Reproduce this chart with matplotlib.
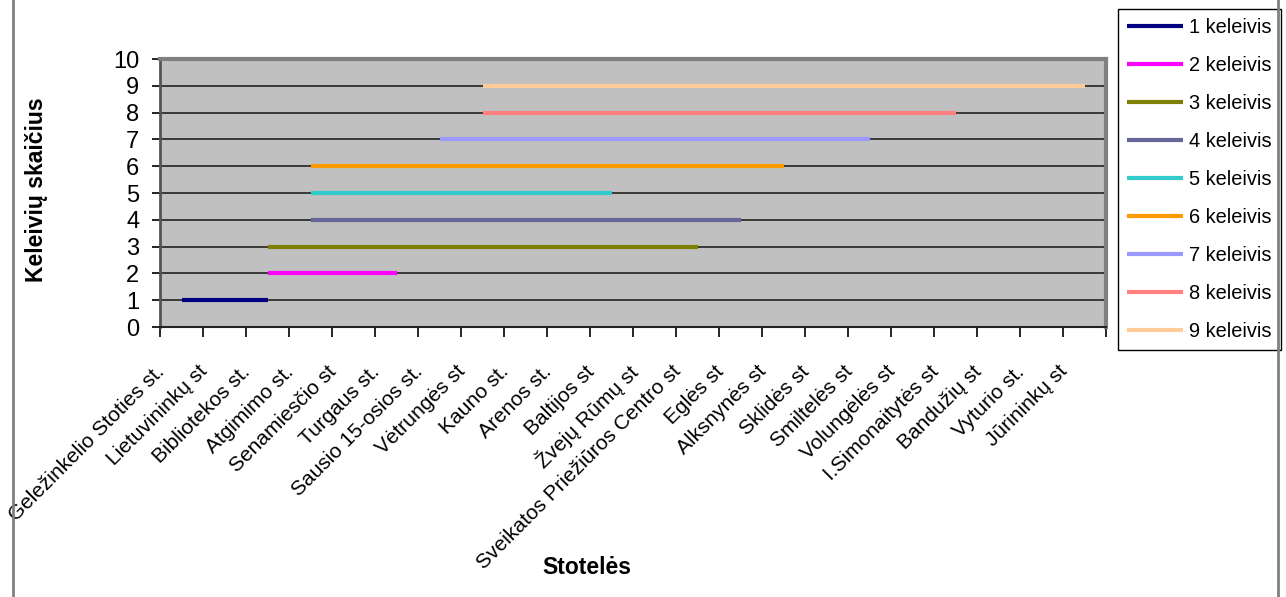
import matplotlib.pyplot as plt
from matplotlib.lines import Line2D
from matplotlib.transforms import ScaledTranslation

plt.rcParams['font.family'] = ['Liberation Sans', 'DejaVu Sans']

stops = ['Geležinkelio Stoties st.', 'Lietuvininkų st', 'Bibliotekos st.', 'Atgimimo st.',
         'Senamiesčio st', 'Turgaus st.', 'Sausio 15-osios st.', 'Vėtrungės st',
         'Kauno st.', 'Arenos st.', 'Baltijos st', 'Žvejų Rūmų st',
         'Sveikatos Priežiūros Centro st', 'Eglės st', 'Alksnynės st', 'Sklidės st',
         'Smiltelės st', 'Volungėlės st', 'I.Simonaitytės st', 'Bandužių st',
         'Vyturio st.', 'Jūrininkų st']

# passenger number, stop where boarding and stop where leaving (index into stops)
passengers = [1, 2, 3, 4, 5, 6, 7, 8, 9]
board = [0, 2, 2, 3, 3, 3, 6, 7, 7]
leave = [2, 5, 12, 13, 10, 14, 16, 18, 21]
labels = [str(p) + ' keleivis' for p in passengers]
colors = ['#000080', '#FF00FF', '#808000', '#666699', '#33CCCC',
          '#FF9900', '#9999FF', '#FF8080', '#FFCC99']

fig = plt.figure(figsize=(12.86, 5.97), dpi=100)
ax = fig.add_axes([160 / 1286, 1 - 327 / 597, 946 / 1286, 268 / 597])
ax.set_facecolor('#C0C0C0')

for p, b, l, lab, c in zip(passengers, board, leave, labels, colors):
    ax.plot([b, l], [p, p], color=c, lw=3, solid_capstyle='butt', label=lab, zorder=3)

ax.set_xlim(-0.5, len(stops) - 0.5)
ax.set_ylim(0, 10)
ax.set_yticks(range(0, 11))
ax.yaxis.grid(True, color='#222222', lw=1.2)
ax.set_axisbelow(True)
ax.tick_params(axis='y', labelsize=17, length=6, width=1.2, direction='out', pad=9)

ax.set_xticks([i - 0.5 for i in range(len(stops) + 1)])
ax.set_xticklabels([])
ax.tick_params(axis='x', which='major', length=7, width=1.2, direction='out')
ax.set_xticks(range(len(stops)), minor=True)
ax.set_xticklabels(stops, minor=True, rotation=45, ha='right', va='center',
                   rotation_mode='anchor', fontsize=15)
ax.tick_params(axis='x', which='minor', length=0, pad=30)
for t in ax.get_xticklabels(minor=True):
    t.set_transform(t.get_transform() + ScaledTranslation(-0.2, 0, fig.dpi_scale_trans))

for s in ['top', 'right']:
    ax.spines[s].set_color('#808080')
    ax.spines[s].set_linewidth(3)
ax.spines['left'].set_color('#555555')
ax.spines['left'].set_linewidth(2)
ax.spines['bottom'].set_color('#222222')
ax.spines['bottom'].set_linewidth(1.5)

fig.text(37 / 1286, 1 - 190 / 597, 'Keleivių skaičius', rotation=90, fontsize=16.5,
         fontweight='bold', ha='center', va='center')
fig.text(587 / 1286, 1 - 567 / 597, 'Stotelės', fontsize=16.5, fontweight='bold',
         ha='center', va='center')

leg = ax.legend(loc='upper left', bbox_to_anchor=(1118 / 1286, 1 - 9 / 597),
                bbox_transform=fig.transFigure, borderaxespad=0, fontsize=14.4,
                fancybox=False, edgecolor='black', framealpha=1, handlelength=2.8,
                handletextpad=0.3, labelspacing=0.95, borderpad=0.45)
leg.get_frame().set_linewidth(1)

fig.add_artist(Line2D([13 / 1286, 13 / 1286], [0, 1], color='#808080', lw=2,
                      transform=fig.transFigure))
fig.add_artist(Line2D([1278 / 1286, 1278 / 1286], [0, 1], color='#808080', lw=2,
                      transform=fig.transFigure))

fig.savefig('out.png', dpi=100)
